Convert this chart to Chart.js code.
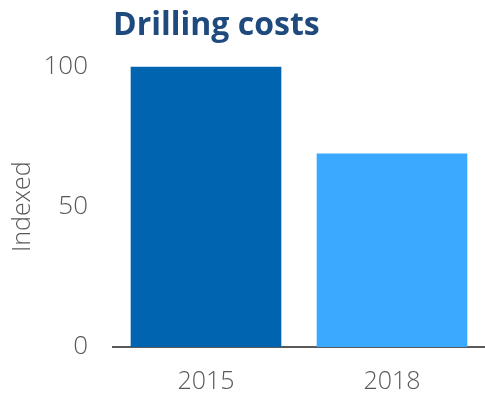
<!DOCTYPE html>
<html>
<head>
<meta charset="utf-8">
<script src="https://cdn.jsdelivr.net/npm/chart.js@4/dist/chart.umd.min.js"></script>
<style>
  html, body { margin: 0; padding: 0; background: #fff; }
  #wrap { position: relative; width: 485px; height: 394px; }
</style>
</head>
<body>
<div id="wrap"><canvas id="c"></canvas></div>
<script>
const years = ['2015', '2018'];
const costIndex = [100, 69];
const barColors = ['#0064B0', '#3AA9FF'];
const yTicks = [0, 50, 100];

const grey = '#595959';
const font = '"Open Sans", "Noto Sans", sans-serif';

new Chart(document.getElementById('c'), {
  type: 'bar',
  data: {
    labels: years,
    datasets: [{
      data: costIndex,
      backgroundColor: barColors,
      borderWidth: 0,
      categoryPercentage: 0.81,
      barPercentage: 1
    }]
  },
  options: {
    responsive: true,
    maintainAspectRatio: false,
    animation: false,
    layout: { padding: { left: 8, right: 0, top: 0, bottom: 0 } },
    plugins: {
      legend: { display: false },
      tooltip: { enabled: false },
      title: {
        display: true,
        text: 'Drilling costs',
        align: 'start',
        fullSize: false,
        color: '#1F4A7E',
        font: { family: font, size: 32, weight: 'bold' },
        padding: { top: 7, bottom: 21 }
      }
    },
    scales: {
      x: {
        afterFit: ax => { ax.height = 47; },
        grid: { display: false, drawTicks: false },
        border: { display: true, color: grey, width: 2 },
        ticks: { color: grey, font: { family: font, size: 25, weight: 300 }, padding: 20 }
      },
      y: {
        min: 0,
        max: 100,
        afterBuildTicks: ax => { ax.ticks = yTicks.map(v => ({ value: v })); },
        afterFit: ax => { ax.width = 105; },
        grid: { display: false, drawTicks: false },
        border: { display: false },
        ticks: { color: grey, font: { family: font, size: 26, weight: 300 }, padding: 25 },
        title: {
          display: true,
          text: 'Indexed',
          color: grey,
          font: { family: font, size: 25, weight: 300 },
          padding: { top: 0, bottom: 8 }
        }
      }
    }
  }
});
</script>
</body>
</html>
